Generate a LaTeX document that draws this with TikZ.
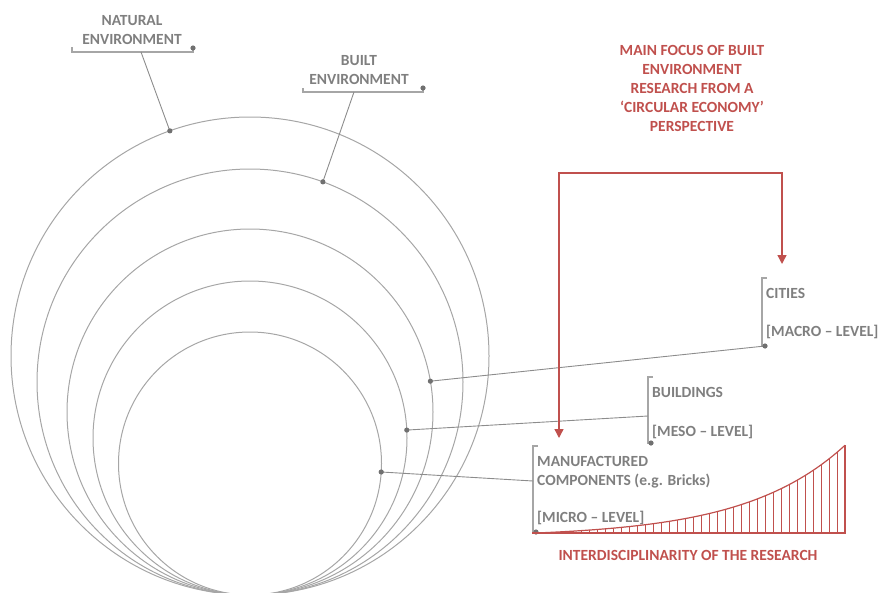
\documentclass[tikz,border=0pt]{standalone}
\usepackage{fontspec}
\setmainfont{Carlito}
\usetikzlibrary{arrows.meta,calc}
\definecolor{redc}{HTML}{C0504D}
\definecolor{txtgrey}{HTML}{7F7F7F}
\definecolor{lingrey}{HTML}{A6A6A6}
\definecolor{congrey}{HTML}{8C8C8C}
\definecolor{dotgrey}{HTML}{707070}
\begin{document}
\begin{tikzpicture}[x=1pt,y=-1pt,
  lbl/.style={font=\bfseries\fontsize{15.5}{19}\selectfont, text=txtgrey, inner sep=0pt},
  rlbl/.style={lbl, text=redc},
  ring/.style={draw=lingrey, line width=1pt},
  conn/.style={draw=congrey, line width=0.9pt},
  brk/.style={draw=lingrey, line width=1.1pt},
  gdot/.style={fill=dotgrey},
  rline/.style={draw=redc, line width=1.4pt},
  hatch/.style={draw=redc, line width=0.6pt}]
\useasboundingbox (0,0) rectangle (878,592);
\clip (0,0) rectangle (878,592);
% circle centres
\coordinate (c1) at (250,356);
\coordinate (c2) at (250,382);
\coordinate (c3) at (250,412);
\coordinate (c4) at (250,438);
\coordinate (c5) at (250,463.5);
\draw[ring] (c1) circle[radius=239pt];
\draw[ring] (c2) circle[radius=213pt];
\draw[ring] (c3) circle[radius=183pt];
\draw[ring] (c4) circle[radius=157pt];
\draw[ring] (c5) circle[radius=131.5pt];
% dots on circles
\coordinate (d1) at ($(c1)+(-109.6:239)$);
\coordinate (d2) at ($(c2)+(-70.0:213)$);
\coordinate (d3) at ($(c3)+(-9.7:183)$);
\coordinate (d4) at ($(c4)+(-2.9:157)$);
\coordinate (d5) at ($(c5)+(3.7:131.5)$);
% natural environment label
\node[lbl, anchor=base] (nat1) at (132,25) {NATURAL};
\node[lbl, anchor=base] (nat2) at (132,44) {ENVIRONMENT};
\coordinate (natL) at (72,47);
\coordinate (natR) at (193,48);
\coordinate (natC) at (141,52);
\draw[brk] (natL) -- (72,52) -- (193,52) -- (natR);
\draw[conn] (natC) -- (d1);
% built environment label
\node[lbl, anchor=base] (blt1) at (359,65) {BUILT};
\node[lbl, anchor=base] (blt2) at (359,84) {ENVIRONMENT};
\coordinate (bltL) at (303,88);
\coordinate (bltR) at (423,88);
\coordinate (bltC) at (354,92);
\draw[brk] (bltL) -- (303,92) -- (423,92) -- (bltR);
\draw[conn] (bltC) -- (d2);
% red title
\node[rlbl, anchor=base] (r1) at (692,55.7) {MAIN FOCUS OF BUILT};
\node[rlbl, anchor=base] (r2) at (692,74.7) {ENVIRONMENT};
\node[rlbl, anchor=base] (r3) at (692,93.7) {RESEARCH FROM A};
\node[rlbl, anchor=base] (r4) at (692,112.7) {‘CIRCULAR ECONOMY’};
\node[rlbl, anchor=base] (r5) at (692,131.7) {PERSPECTIVE};
% cities
\node[lbl, anchor=base west] (cit1) at (766,298) {CITIES};
\node[lbl, anchor=base west] (cit2) at (766,336) {[MACRO -- LEVEL]};
\coordinate (citT) at (767,278);
\coordinate (citB) at (765,346);
\coordinate (citD) at (765,346);
\draw[brk] (citT) -- (762,278) -- (762,346) -- (citB);
\draw[conn] (d3) -- (citD);
% buildings
\node[lbl, anchor=base west] (bld1) at (652,397) {BUILDINGS};
\node[lbl, anchor=base west] (bld2) at (652,436) {[MESO -- LEVEL]};
\coordinate (bldT) at (653,377);
\coordinate (bldD) at (651,443);
\coordinate (bldC) at (648,416);
\draw[brk] (bldT) -- (648,377) -- (648,443) -- (bldD);
\draw[conn] (d4) -- (bldC);
% manufactured components
\node[lbl, anchor=base west] (man1) at (537,466) {MANUFACTURED};
\node[lbl, anchor=base west] (man2) at (537,485) {COMPONENTS (e.g. Bricks)};
\node[lbl, anchor=base west] (man3) at (537,522) {[MICRO -- LEVEL]};
\coordinate (manT) at (538,446);
\coordinate (manD) at (536,532);
\coordinate (manC) at (533,481);
\draw[brk] (manT) -- (533,446) -- (533,532) -- (manD);
\draw[conn] (d5) -- (manC);
% dots
\foreach \p in {d1,d2,d3,d4,d5,natR,bltR,citD,bldD,manD}
  \fill[gdot] (\p) circle[radius=2.6pt];
% red arrows
\coordinate (aL) at (559,438);
\coordinate (aR) at (782,264);
\draw[rline, {Triangle[width=9pt,length=9pt]}-{Triangle[width=9pt,length=9pt]}]
  (aL) -- (559,173) -- (782,173) -- (aR);
% interdisciplinarity graph
\coordinate (g0) at (532,533);
\coordinate (g1) at (845,533);
\coordinate (g2) at (845,445);
\foreach \i in {0,...,38}{
  \pgfmathsetmacro{\xx}{845-8*\i}
  \pgfmathsetmacro{\yy}{533-4.19*(exp(0.01*(\xx-536))-1)}
  \draw[hatch] (\xx,533) -- (\xx,\yy);
}
\draw[rline, line width=1.2pt] plot[domain=536:845, samples=120, smooth] (\x,{533-4.19*(exp(0.01*(\x-536))-1)});
\draw[rline, line width=1.2pt] (g0) -- (g1) -- (g2);
\node[rlbl, anchor=base] (inter) at (688,560) {INTERDISCIPLINARITY OF THE RESEARCH};
\end{tikzpicture}
\end{document}
